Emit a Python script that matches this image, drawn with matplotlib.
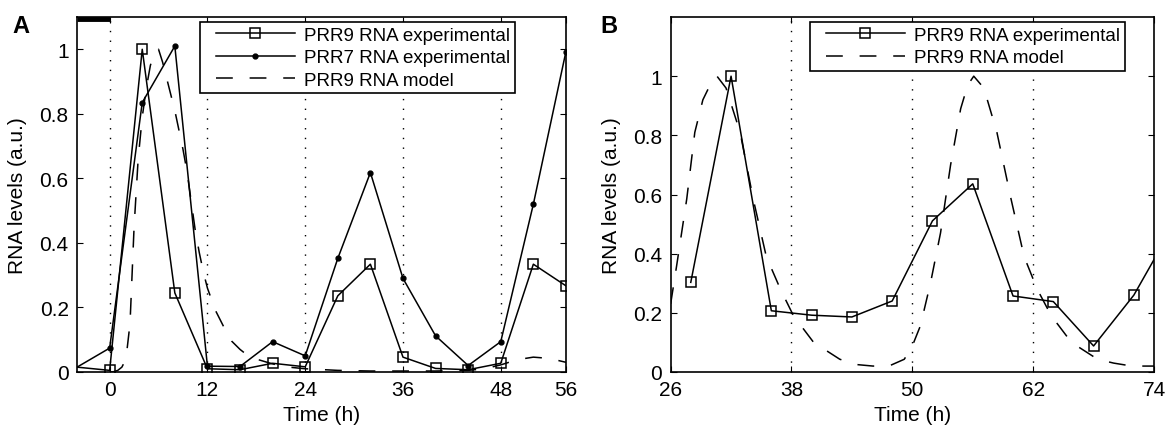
import numpy as np
import matplotlib.pyplot as plt
from matplotlib.legend_handler import HandlerLine2D

plt.rcParams['font.family'] = ['Liberation Sans', 'DejaVu Sans']
plt.rcParams['font.size'] = 15

# panel A data
t_exp_a = [-4, 0, 4, 8, 12, 16, 20, 24, 28, 32, 36, 40, 44, 48, 52, 56]
prr9_exp_a = [0.015, 0.005, 1.0, 0.245, 0.01, 0.007, 0.027, 0.016, 0.236, 0.334,
              0.046, 0.011, 0.007, 0.027, 0.334, 0.267]
prr7_exp_a = [0.015, 0.074, 0.835, 1.01, 0.018, 0.017, 0.094, 0.05, 0.352, 0.618,
              0.29, 0.112, 0.02, 0.094, 0.52, 0.993]
t_mod_a = [0, 0.5, 1, 1.5, 2, 2.5, 3, 3.5, 4, 4.5, 5, 5.5, 6, 6.5, 7, 7.5, 8, 8.5,
           9, 9.5, 10, 10.5, 11, 11.5, 12, 13, 14, 15, 16, 17, 18, 20, 22, 24, 28,
           32, 36, 40, 44, 46, 48, 50, 52, 54, 56]
prr9_mod_a = [0.0, 0.001, 0.005, 0.015, 0.04, 0.15, 0.45, 0.66, 0.79, 0.88, 0.95,
              0.99, 1.0, 0.96, 0.91, 0.86, 0.81, 0.75, 0.69, 0.62, 0.53, 0.44, 0.37,
              0.31, 0.26, 0.19, 0.14, 0.095, 0.07, 0.05, 0.04, 0.025, 0.015, 0.01,
              0.005, 0.003, 0.003, 0.003, 0.005, 0.01, 0.022, 0.038, 0.046, 0.042, 0.03]
dark_a = [-4, 0]

# panel B data
t_exp_b = [28, 32, 36, 40, 44, 48, 52, 56, 60, 64, 68, 72, 76]
prr9_exp_b = [0.303, 1.0, 0.207, 0.192, 0.186, 0.24, 0.511, 0.636, 0.257, 0.238,
              0.088, 0.26, 0.5]
t_mod_b = [26, 26.6, 27.6, 28.4, 29.2, 30.2, 30.6, 31.5, 32.9, 34.2, 35.5, 36.9,
           38.2, 40.2, 42.8, 44.5, 46.1, 47.8, 49.2, 50, 50.8, 51.8, 52.8, 53.8,
           54.8, 55.5, 56.1, 57.1, 58.4, 59.8, 61.1, 62.4, 63.8, 65.8, 68.4, 70,
           71.8, 74]
prr9_mod_b = [0.23, 0.36, 0.585, 0.81, 0.92, 0.99, 1.0, 0.96, 0.81, 0.585, 0.39,
              0.28, 0.19, 0.1, 0.043, 0.025, 0.02, 0.022, 0.043, 0.088, 0.156, 0.30,
              0.47, 0.70, 0.89, 0.97, 1.0, 0.96, 0.81, 0.585, 0.39, 0.28, 0.19, 0.1,
              0.043, 0.03, 0.02, 0.02]

fig = plt.figure(figsize=(11.71, 4.31), dpi=100)
axA = fig.add_axes([0.0658, 0.1346, 0.4175, 0.8236])
axB = fig.add_axes([0.5727, 0.1346, 0.4128, 0.8236])

dotted = (0, (1, 6))
dashed = (0, (11, 11))


def prettify(ax):
    ax.tick_params(direction='in', top=True, right=True, length=4, width=0.8,
                   labelsize=15, pad=6)
    for s in ax.spines.values():
        s.set_linewidth(1.2)
    ax.set_xlabel('Time (h)', labelpad=4)
    ax.set_ylabel('RNA levels (a.u.)', labelpad=9)


def add_legend(ax, x0):
    leg = ax.legend(loc='upper left', bbox_to_anchor=(x0, 0.9868), borderaxespad=0,
                    fontsize=13.5, handlelength=4.8, handletextpad=0.5,
                    labelspacing=0.29, borderpad=0.25, fancybox=False, framealpha=1,
                    edgecolor='k', handler_map={plt.Line2D: HandlerLine2D(xpad=0.6)})
    leg.get_frame().set_linewidth(1.2)
    return leg


# A
for xv in [0, 12, 24, 36, 48]:
    axA.axvline(xv, color='k', ls=dotted, lw=1)
mk = list(range(1, len(t_exp_a)))
axA.plot(t_exp_a, prr9_exp_a, color='k', lw=1.1, marker='s', ms=7, mfc='none',
         mew=1.1, markevery=mk, label='PRR9 RNA experimental')
axA.plot(t_exp_a, prr7_exp_a, color='k', lw=1.1, marker='o', ms=3.5,
         markevery=mk, label='PRR7 RNA experimental')
axA.plot(t_mod_a, prr9_mod_a, color='k', lw=1.1, ls=dashed, label='PRR9 RNA model')
axA.plot(dark_a, [1.093, 1.093], color='k', lw=3.5, solid_capstyle='butt')
axA.set_xlim(-4, 56)
axA.set_ylim(0, 1.1)
axA.set_xticks([0, 12, 24, 36, 48, 56])
axA.set_yticks([0, 0.2, 0.4, 0.6, 0.8, 1])
axA.set_yticklabels(['0', '0.2', '0.4', '0.6', '0.8', '1'])
prettify(axA)
add_legend(axA, 0.2515)

# B
for xv in [38, 50, 62]:
    axB.axvline(xv, color='k', ls=dotted, lw=1)
axB.plot(t_exp_b, prr9_exp_b, color='k', lw=1.1, marker='s', ms=7, mfc='none',
         mew=1.1, label='PRR9 RNA experimental')
axB.plot(t_mod_b, prr9_mod_b, color='k', lw=1.1, ls=dashed, label='PRR9 RNA model')
axB.set_xlim(26, 74)
axB.set_ylim(0, 1.2)
axB.set_xticks([26, 38, 50, 62, 74])
axB.set_yticks([0, 0.2, 0.4, 0.6, 0.8, 1])
axB.set_yticklabels(['0', '0.2', '0.4', '0.6', '0.8', '1'])
prettify(axB)
add_legend(axB, 0.2882)

fig.text(0.0102, 0.965, 'A', fontsize=17, fontweight='bold', va='top')
fig.text(0.5124, 0.965, 'B', fontsize=17, fontweight='bold', va='top')

fig.savefig('out.png', dpi=100)
